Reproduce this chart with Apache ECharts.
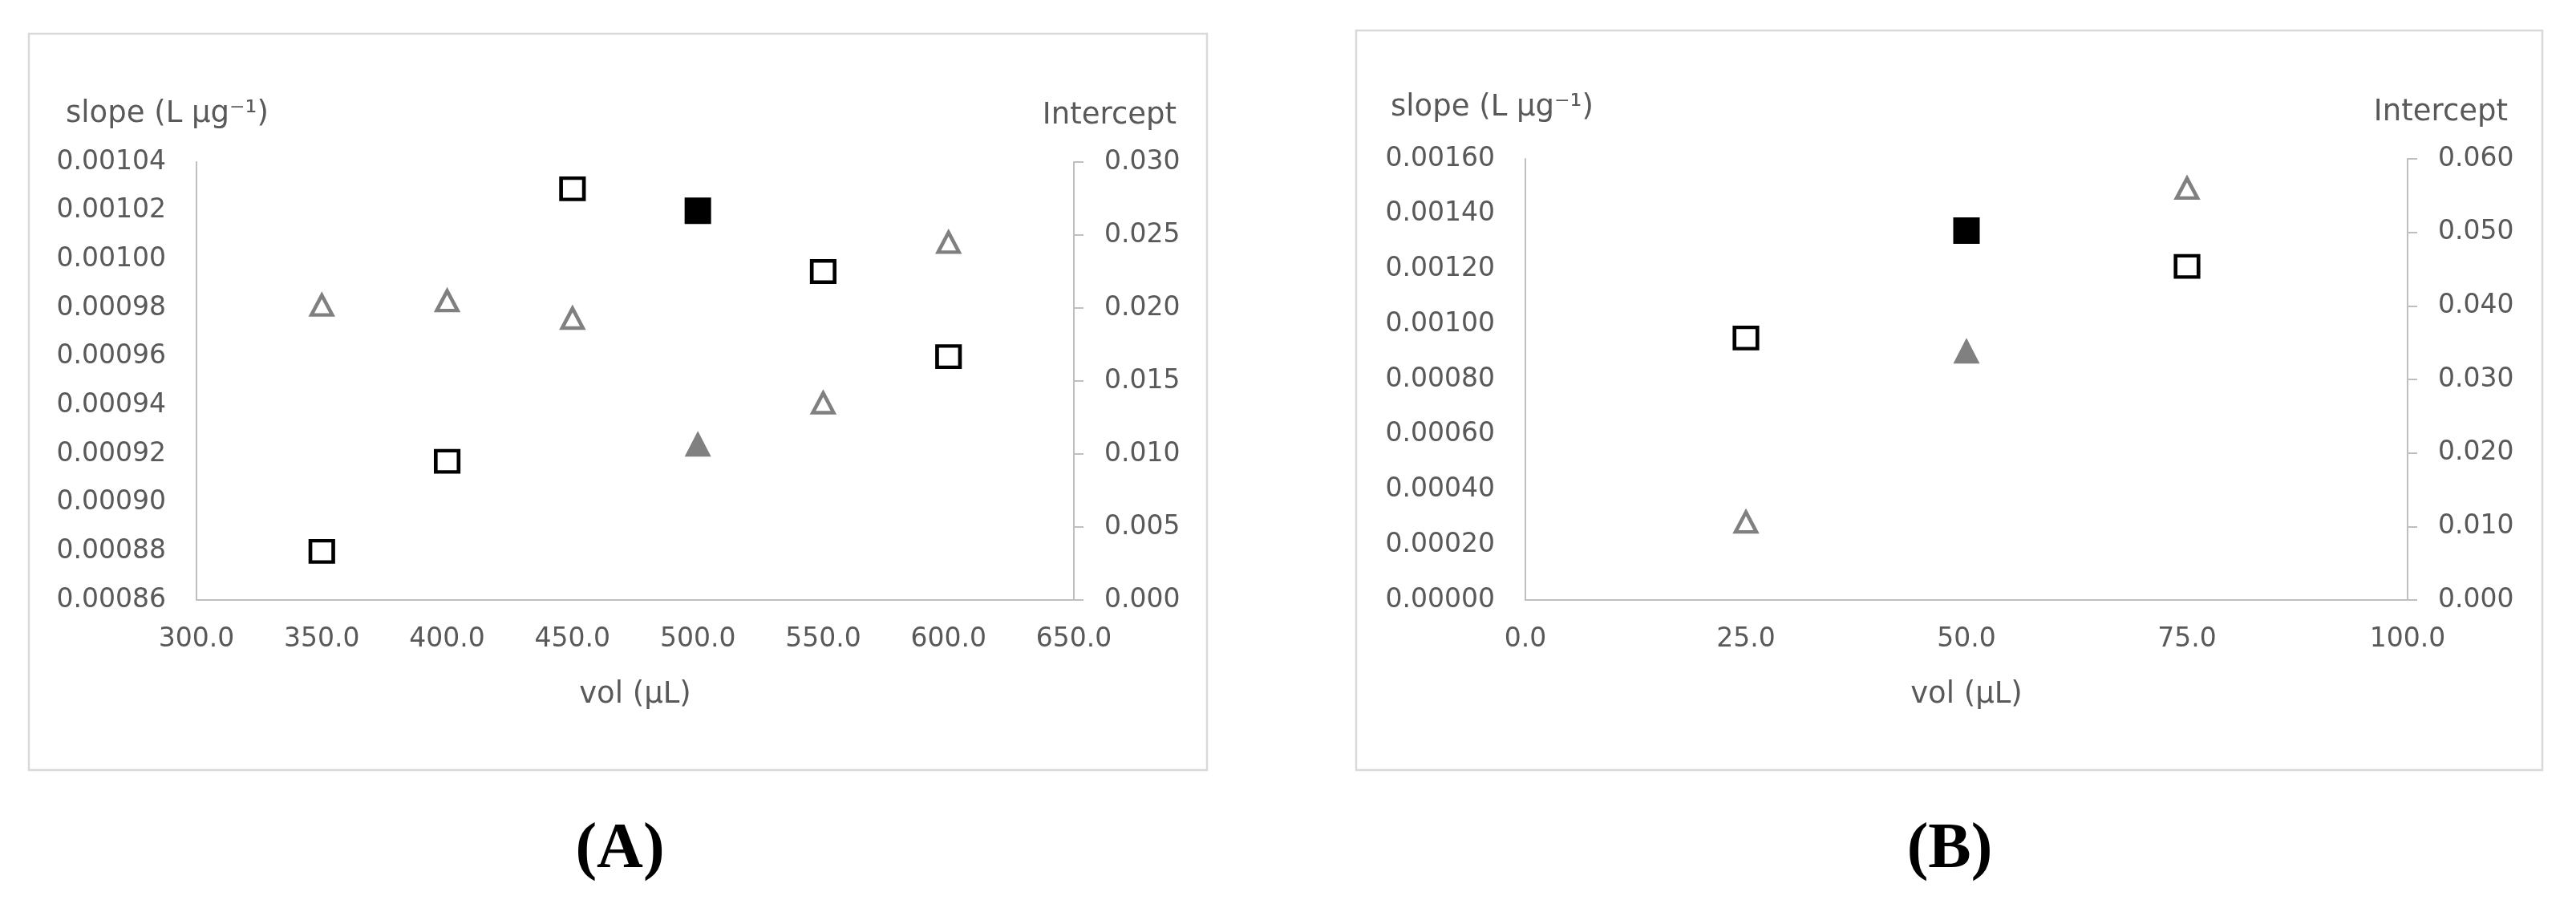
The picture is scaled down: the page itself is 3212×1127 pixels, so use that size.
<!DOCTYPE html>
<html>
<head>
<meta charset="utf-8">
<script src="https://cdn.jsdelivr.net/npm/echarts@6/dist/echarts.min.js"></script>
<style>
  html, body { margin: 0; padding: 0; background: #fff; }
  #main { width: 3212px; height: 1127px; }
</style>
</head>
<body>
<div id="main"></div>
<script>
// panel A: vol 350..600 uL
var volA = [350, 400, 450, 500, 550, 600];
var slopeA = [0.00088, 0.000917, 0.001029, 0.00102, 0.000995, 0.00096];
var interceptA = [0.0202, 0.0205, 0.0193, 0.0107, 0.0135, 0.0245];
var pickA = 500;   // filled marker

// panel B: vol 25..75 uL
var volB = [25, 50, 75];
var slopeB = [0.00095, 0.00134, 0.00121];
var interceptB = [0.0106, 0.0339, 0.0560];
var pickB = 50;

// axis ranges [min, max, interval]
var volAxisA = [300, 650, 50];
var slopeAxisA = [0.00086, 0.00104, 0.00002];
var interceptAxisA = [0, 0.030, 0.005];
var volAxisB = [0, 100, 25];
var slopeAxisB = [0, 0.0016, 0.0002];
var interceptAxisB = [0, 0.060, 0.010];

var labelColor = '#595959';
var lineColor = '#bfbfbf';
var font = 'DejaVu Sans';

function squares(vol, vals, pick){
	return vol.map(function(v, i){
		if (v === pick) {
			return { value: [v, vals[i]], symbolSize: 33,
				itemStyle: { color: '#000', borderWidth: 0, opacity: 1 } };
		}
		return { value: [v, vals[i]], symbolSize: [28.5, 26.5],
			itemStyle: { color: '#fff', borderColor: '#000', borderWidth: 4.5, opacity: 1 } };
	});
}
function triangles(vol, vals, pick){
	return vol.map(function(v, i){
		if (v === pick) {
			return { value: [v, vals[i]], symbolSize: [33, 32],
				itemStyle: { color: '#808080', borderWidth: 0, opacity: 1 } };
		}
		return { value: [v, vals[i]], symbolSize: [26, 24.5],
			itemStyle: { color: '#fff', borderColor: '#808080', borderWidth: 4.5, opacity: 1 } };
	});
}

function xAxisOf(grid, range){
	return {
		type: 'value', gridIndex: grid,
		min: range[0], max: range[1], interval: range[2],
		name: 'vol (µL)', nameLocation: 'middle', nameGap: 100,
		nameTextStyle: { color: labelColor, fontSize: 37, fontFamily: font },
		axisLine: { show: true, lineStyle: { color: lineColor, width: 2 } },
		axisTick: { show: false },
		splitLine: { show: false },
		axisLabel: { color: labelColor, fontSize: 33, fontFamily: font, margin: 33,
			formatter: function(v){ return v.toFixed(1); } }
	};
}
function yAxisOf(grid, range, side, digits){
	return {
		type: 'value', gridIndex: grid, position: side,
		min: range[0], max: range[1], interval: range[2],
		axisLine: { show: true, lineStyle: { color: lineColor, width: 2 } },
		axisTick: { show: side === 'right', length: 12, lineStyle: { color: lineColor, width: 2 } },
		splitLine: { show: false },
		axisLabel: { color: labelColor, fontSize: 33, fontFamily: font, margin: 38,
			formatter: function(v){ return v.toFixed(digits); } }
	};
}

var MyEchart = echarts.init(document.getElementById('main'));
var option = {
	backgroundColor: '#fff',
	animation: false,
	grid: [
		{ left: 245, top: 202, width: 1094, height: 546, containLabel: false, outerBoundsMode: 'none' },
		{ left: 1902, top: 198, width: 1100, height: 550, containLabel: false, outerBoundsMode: 'none' }
	],
	xAxis: [ xAxisOf(0, volAxisA), xAxisOf(1, volAxisB) ],
	yAxis: [
		yAxisOf(0, slopeAxisA, 'left', 5),
		yAxisOf(0, interceptAxisA, 'right', 3),
		yAxisOf(1, slopeAxisB, 'left', 5),
		yAxisOf(1, interceptAxisB, 'right', 3)
	],
	series: [
		{ type: 'scatter', name: 'slope A', xAxisIndex: 0, yAxisIndex: 0, symbol: 'rect', data: squares(volA, slopeA, pickA) },
		{ type: 'scatter', name: 'intercept A', xAxisIndex: 0, yAxisIndex: 1, symbol: 'triangle', data: triangles(volA, interceptA, pickA) },
		{ type: 'scatter', name: 'slope B', xAxisIndex: 1, yAxisIndex: 2, symbol: 'rect', data: squares(volB, slopeB, pickB) },
		{ type: 'scatter', name: 'intercept B', xAxisIndex: 1, yAxisIndex: 3, symbol: 'triangle', data: triangles(volB, interceptB, pickB) }
	],
	// frames and loose labels
	graphic: [
		{ type: 'rect', shape: { x: 36, y: 42, width: 1469, height: 918 },
			style: { fill: 'none', stroke: '#d9d9d9', lineWidth: 2.5 } },
		{ type: 'rect', shape: { x: 1691, y: 38, width: 1479, height: 922 },
			style: { fill: 'none', stroke: '#d9d9d9', lineWidth: 2.5 } },
		{ type: 'text', x: 82, y: 142, style: { text: 'slope (L µg⁻¹)', fill: labelColor,
			fontSize: 37, fontFamily: font, align: 'left', verticalAlign: 'middle' } },
		{ type: 'text', x: 1467, y: 144, style: { text: 'Intercept', fill: labelColor,
			fontSize: 37, fontFamily: font, align: 'right', verticalAlign: 'middle' } },
		{ type: 'text', x: 1734, y: 134, style: { text: 'slope (L µg⁻¹)', fill: labelColor,
			fontSize: 37, fontFamily: font, align: 'left', verticalAlign: 'middle' } },
		{ type: 'text', x: 3127, y: 140, style: { text: 'Intercept', fill: labelColor,
			fontSize: 37, fontFamily: font, align: 'right', verticalAlign: 'middle' } },
		{ type: 'text', x: 773, y: 1060, style: { text: '(A)', fill: '#000',
			font: 'bold 80px "Liberation Serif"', align: 'center', verticalAlign: 'middle' } },
		{ type: 'text', x: 2431, y: 1060, style: { text: '(B)', fill: '#000',
			font: 'bold 80px "Liberation Serif"', align: 'center', verticalAlign: 'middle' } }
	]
};
MyEchart.setOption(option);
</script>
</body>
</html>
